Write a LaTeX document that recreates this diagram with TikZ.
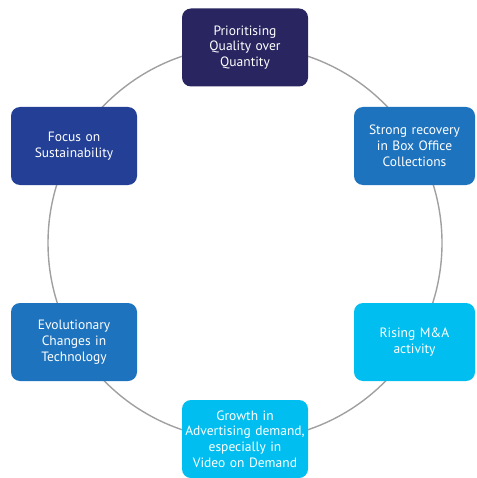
\documentclass[tikz,border=0pt]{standalone}
\usepackage{fontspec}
\setmainfont{PT Sans}

\begin{document}
\begin{tikzpicture}[x=1pt,y=-1pt,
	trendbox/.style={rounded corners=9pt, text=white, align=center,
		minimum width=126pt, minimum height=78pt, inner sep=2pt,
		text width=122pt, font=\fontsize{13.5}{15.8}\selectfont}]
	\definecolor{navy}{RGB}{40, 37, 96}
	\definecolor{royal}{RGB}{35, 64, 150}
	\definecolor{midblue}{RGB}{30, 115, 190}
	\definecolor{skyblue}{RGB}{0, 190, 240}
	\definecolor{ringgray}{RGB}{160, 160, 160}

	\useasboundingbox (0,0) rectangle (476,478);

	% ring behind the boxes
	\coordinate (hub) at (245,243);
	\draw[ringgray, line width=1.4pt] (hub) circle [radius=197];

	\node[trendbox, fill=navy] (quality) at (245,47.5) {Prioritising\\Quality over\\Quantity};
	\node[trendbox, fill=midblue, minimum width=121pt, text width=117pt] (boxoffice) at (414.5,146) {Strong recovery\\in Box Office\\Collections};
	\node[trendbox, fill=skyblue, minimum width=121pt, text width=117pt] (manda) at (414.5,342) {Rising M\&A\\activity};
	\node[trendbox, fill=skyblue] (advert) at (245,439) {Growth in\\Advertising demand,\\especially in\\Video on Demand};
	\node[trendbox, fill=midblue] (tech) at (74,342) {Evolutionary\\Changes in\\Technology};
	\node[trendbox, fill=royal] (sustain) at (74,146) {Focus on\\Sustainability};
\end{tikzpicture}
\end{document}
